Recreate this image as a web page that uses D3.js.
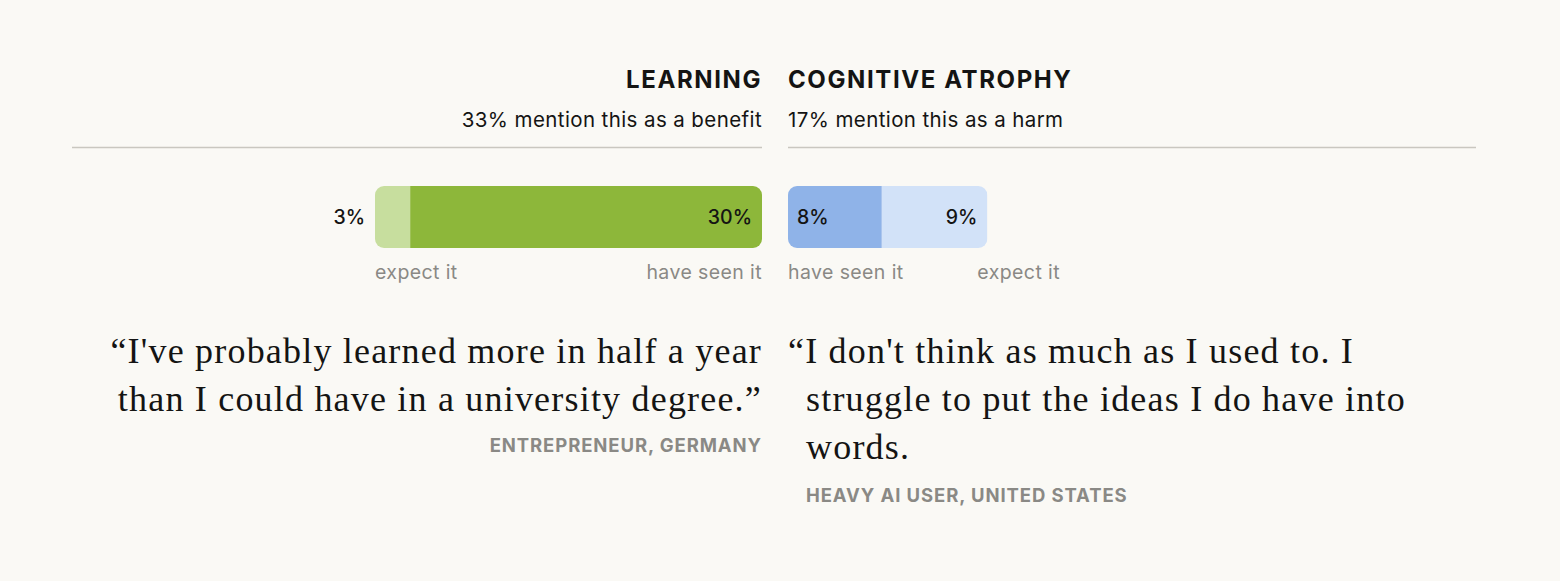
<!DOCTYPE html><html><head><meta charset="utf-8"><script src="https://cdn.jsdelivr.net/npm/d3@7"></script>
<style>body{margin:0;background:#faf9f5}</style></head><body><svg id="c" width="1560" height="581"></svg>
<script>
const panels=["LEARNING","COGNITIVE ATROPHY"];
const subtitles=["33% mention this as a benefit","17% mention this as a harm"];
const leftSegs=[{k:"expect it",v:3,c:"#c7de9e"},{k:"have seen it",v:30,c:"#8db73a"}];
const rightSegs=[{k:"have seen it",v:8,c:"#8fb3e8"},{k:"expect it",v:9,c:"#d2e2f8"}];
const quotes=[["“I've probably learned more in half a year","than I could have in a university degree.”"],["“I don't think as much as I used to. I","struggle to put the ideas I do have into","words."]];
const attribs=["ENTREPRENEUR, GERMANY","HEAVY AI USER, UNITED STATES"];
const svg=d3.select("#c");
const sans="Inter, 'Noto Sans', sans-serif", serif="'Liberation Serif', serif";
const x=d3.scaleLinear().domain([0,33]).range([0,387]);
const L=762,R=788,barY=186,barH=62;
const lab=(t,xx,y,anch,col,fs,fw,ls)=>svg.append("text").attr("x",xx).attr("y",y).attr("text-anchor",anch).attr("font-family",sans).attr("font-size",fs).attr("font-weight",fw||400).attr("letter-spacing",ls||0).attr("fill",col).text(t);
lab(panels[0],L,88,"end","#141413",24,700,1.6);
lab(panels[1],R,88,"start","#141413",24,700,1.6);
lab(subtitles[0],L,127,"end","#141413",20.5,400,0.4);
lab(subtitles[1],R,127,"start","#141413",20.5,400,0.4);
svg.append("line").attr("x1",72).attr("x2",L).attr("y1",147.5).attr("y2",147.5).attr("stroke","#c9c7c0").attr("stroke-width",1.5);
svg.append("line").attr("x1",R).attr("x2",1476).attr("y1",147.5).attr("y2",147.5).attr("stroke","#c9c7c0").attr("stroke-width",1.5);
function bar(segs,x0,dir){
  const tot=d3.sum(segs,d=>d.v), w=x(tot);
  const start=dir>0?x0:x0-w;
  const id="clip"+(dir>0?"r":"l");
  svg.append("clipPath").attr("id",id).append("rect").attr("x",start).attr("y",barY).attr("width",w).attr("height",barH).attr("rx",9);
  const g=svg.append("g").attr("clip-path",`url(#${id})`);
  let acc=0;
  segs.forEach(s=>{const a=x(acc),b=x(acc+s.v);acc+=s.v;
    g.append("rect").attr("x",start+a).attr("y",barY).attr("width",b-a).attr("height",barH).attr("fill",s.c);});
  return {start,w};
}
const lb=bar(leftSegs,L,-1), rb=bar(rightSegs,R,1);
lab(leftSegs[0].v+"%",lb.start-10,224,"end","#141413",19.5,500);
lab(leftSegs[1].v+"%",L-10,224,"end","#141413",19.5,500);
lab(rightSegs[0].v+"%",R+9,224,"start","#141413",19.5,500);
lab(rightSegs[1].v+"%",R+rb.w-10,224,"end","#141413",19.5,500);
lab(leftSegs[0].k,lb.start,279,"start","#8a8985",19.5,400,0.4);
lab(leftSegs[1].k,L,279,"end","#8a8985",19.5,400,0.4);
lab(rightSegs[0].k,R,279,"start","#8a8985",19.5,400,0.4);
lab(rightSegs[1].k,R+rb.w-10,279,"start","#8a8985",19.5,400,0.4);
quotes[0].forEach((q,i)=>svg.append("text").attr("x",L).attr("y",363+i*48).attr("text-anchor","end").attr("font-family",serif).attr("font-size",36).attr("letter-spacing",1.2).attr("fill","#141413").text(q));
quotes[1].forEach((q,i)=>svg.append("text").attr("x",i==0?R:806).attr("y",363+i*48).attr("font-family",serif).attr("font-size",36).attr("letter-spacing",1.2).attr("fill","#141413").text(q));
lab(attribs[0],L,452,"end","#8a8985",18.5,700,0.9);
lab(attribs[1],806,502,"start","#8a8985",18.5,700,0.9);
</script></body></html>
